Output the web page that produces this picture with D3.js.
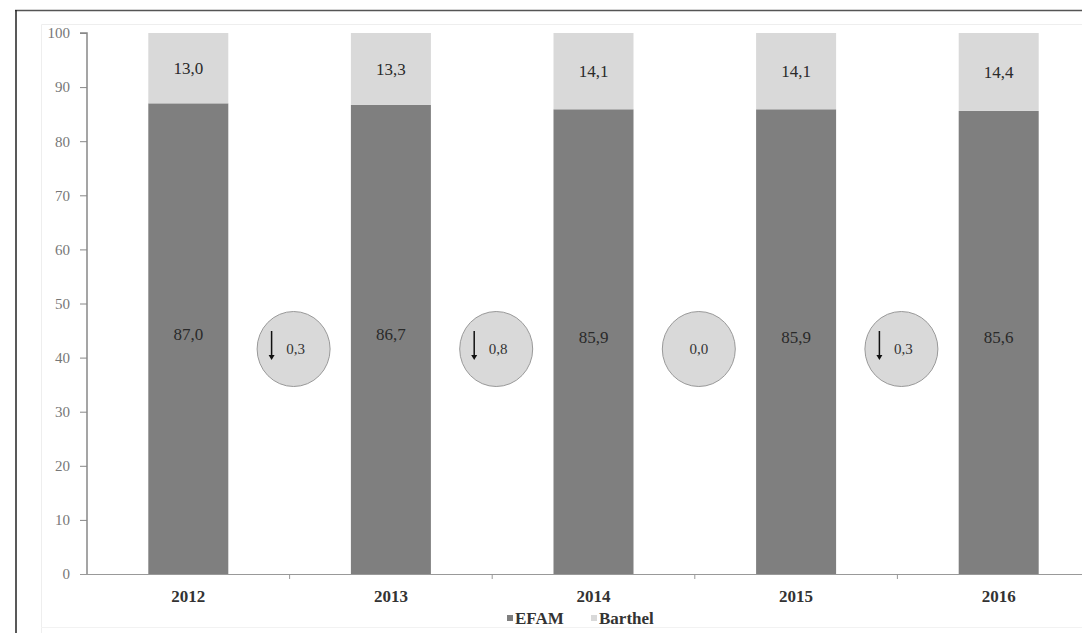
<!DOCTYPE html>
<html><head><meta charset="utf-8">
<script src="https://cdn.jsdelivr.net/npm/d3@7"></script>
<style>body{margin:0;background:#fff}svg{display:block} svg text{font-family:"Liberation Serif","Times New Roman","DejaVu Serif",serif !important}</style>
</head><body>
<script>
const years = ["2012","2013","2014","2015","2016"];
const efam = [87.0, 86.7, 85.9, 85.9, 85.6];
const barthel = [13.0, 13.3, 14.1, 14.1, 14.4];
const changes = ["0,3","0,8","0,0","0,3"];
const changeDown = [true, true, false, true];
const yTicks = [0,10,20,30,40,50,60,70,80,90,100];
const seriesNames = ["EFAM","Barthel"];
const colors = {EFAM:"#7f7f7f", Barthel:"#d9d9d9"};

const W = 1082, H = 633;
const svg = d3.select("body").append("svg").attr("width", W).attr("height", H);

// outer frame
svg.append("line").attr("x1",15).attr("x2",W).attr("y1",10.5).attr("y2",10.5).attr("stroke","#555").attr("stroke-width",1.5);
svg.append("line").attr("x1",16).attr("x2",16).attr("y1",10).attr("y2",H).attr("stroke","#222").attr("stroke-width",1.5);
// faint inner frame
svg.append("path").attr("d",`M41.5,${H} V24.5 H${W}`).attr("fill","none").attr("stroke","#eee");
svg.append("line").attr("x1",41).attr("x2",W).attr("y1",627.5).attr("y2",627.5).attr("stroke","#f2f2f2");

const x0 = 87, bandW = 202.6;
const x = d3.scaleBand().domain(years).range([x0, x0 + bandW*years.length]).paddingInner(0).paddingOuter(0);
const y = d3.scaleLinear().domain([0,100]).range([574, 33]);
const barW = 80;
const fmt = v => v.toFixed(1).replace(".", ",");

const g = svg.append("g");
years.forEach((yr,i) => {
  const cx = x(yr) + x.bandwidth()/2;
  g.append("rect").attr("x", cx-barW/2).attr("width", barW)
    .attr("y", y(efam[i])).attr("height", y(0)-y(efam[i])).attr("fill", colors.EFAM);
  g.append("rect").attr("x", cx-barW/2).attr("width", barW)
    .attr("y", y(efam[i]+barthel[i])).attr("height", y(efam[i])-y(efam[i]+barthel[i])).attr("fill", colors.Barthel);
  g.append("text").attr("x", cx).attr("y", y(efam[i]/2)+1).attr("text-anchor","middle")
    .attr("font-size",17).attr("fill","#2a2a2a").text(fmt(efam[i]));
  g.append("text").attr("x", cx).attr("y", y(efam[i]+barthel[i]/2)+6).attr("text-anchor","middle")
    .attr("font-size",17).attr("fill","#2a2a2a").text(fmt(barthel[i]));
});

// y axis
const yAxis = svg.append("g").attr("transform",`translate(${x0},0)`)
  .call(d3.axisLeft(y).tickValues(yTicks).tickSize(7).tickPadding(10).tickFormat(d3.format("d")));
yAxis.select(".domain").attr("stroke","#888").attr("stroke-width",1.5).attr("d",`M-7,${y(100)}H0V${y(0)}`);
yAxis.selectAll(".tick line").attr("stroke","#888");
yAxis.selectAll("text").attr("font-size",15).attr("fill","#777");

// x axis
const xAxis = svg.append("g").attr("transform",`translate(0,${y(0)})`)
  .call(d3.axisBottom(x).tickSize(0).tickPadding(16));
xAxis.select(".domain").attr("stroke","#999").attr("d",`M${x0-7},0.5H${x0+bandW*years.length}`);
xAxis.selectAll("text").attr("font-size",17).attr("fill","#333").attr("font-weight","bold");
years.slice(1).forEach(yr => {
  svg.append("line").attr("x1",x(yr)).attr("x2",x(yr)).attr("y1",y(0)).attr("y2",y(0)+5).attr("stroke","#999");
});

// change circles
changes.forEach((c,i) => {
  const cx = x(years[i+1]) + 4, cy = 349;
  const cg = svg.append("g");
  cg.append("ellipse").attr("cx",cx).attr("cy",cy).attr("rx",36.5).attr("ry",37.5)
    .attr("fill","#d9d9d9").attr("stroke","#999").attr("stroke-width",1);
  if (changeDown[i]) {
    cg.append("line").attr("x1",cx-22).attr("x2",cx-22).attr("y1",cy-18).attr("y2",cy+8).attr("stroke","#111").attr("stroke-width",1.5);
    cg.append("path").attr("d",`M${cx-25},${cy+6} L${cx-19},${cy+6} L${cx-22},${cy+11} Z`).attr("fill","#111");
    cg.append("text").attr("x",cx+2).attr("y",cy+5).attr("text-anchor","middle")
      .attr("font-size",15).attr("fill","#333").text(c);
  } else {
    cg.append("text").attr("x",cx).attr("y",cy+5).attr("text-anchor","middle")
      .attr("font-size",15).attr("fill","#333").text(c);
  }
});

// legend
const leg = svg.append("g");
const legItems = [{n:seriesNames[0], x:507}, {n:seriesNames[1], x:591}];
legItems.forEach(it => {
  leg.append("rect").attr("x",it.x).attr("y",615).attr("width",6).attr("height",6).attr("fill",colors[it.n]);
  leg.append("text").attr("x",it.x+8).attr("y",624).attr("font-size",17)
    .attr("font-weight","bold").attr("fill","#333").text(it.n);
});
</script>
</body></html>
